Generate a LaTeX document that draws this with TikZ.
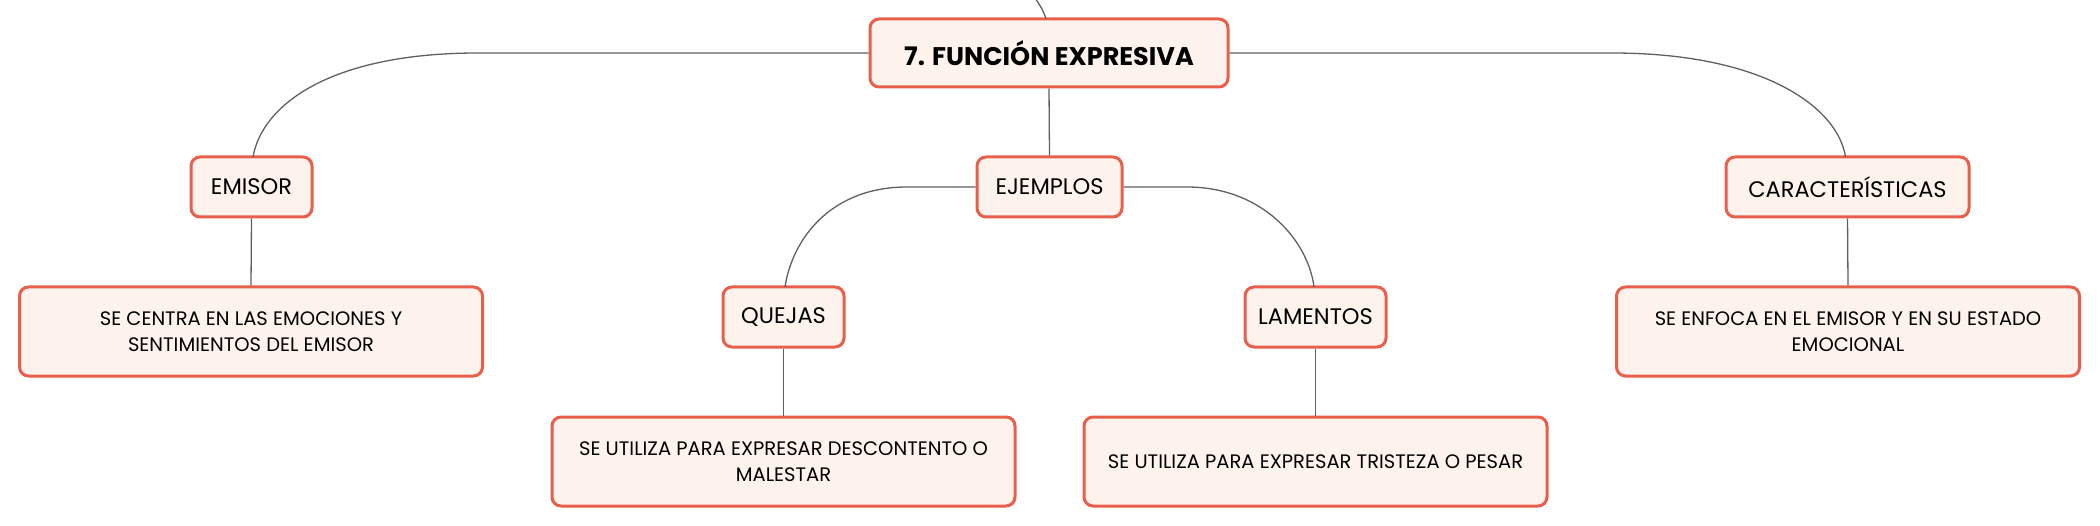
\documentclass[tikz,border=0pt]{standalone}
\usepackage{fontspec}
\setmainfont{Poppins}
\usepackage{tikz}
\usetikzlibrary{calc}
\definecolor{boxred}{HTML}{E8604C}
\definecolor{boxfill}{HTML}{FEF2ED}
\definecolor{linegray}{HTML}{606060}
\tikzset{
	box/.style={draw=boxred, fill=boxfill, line width=3pt, rounded corners=9pt, align=center, inner sep=0pt},
	title/.style={box, minimum height=68pt, font=\fontsize{25.5}{30}\selectfont\bfseries},
	topic/.style={box, minimum height=60pt, font=\fontsize{22.5}{26}\selectfont},
	descr/.style={box, minimum width=463pt, minimum height=89pt, font=\fontsize{19.5}{26}\selectfont},
	conn/.style={draw=linegray, line width=1.3pt}
}

\begin{document}
\begin{tikzpicture}[x=1pt, y=-1pt]
		%%%%% START %%%%%
		\useasboundingbox (0, 0) rectangle (2100, 526);
		
		\node[title, minimum width=358pt] (main) at (1049, 53) {7. FUNCIÓN EXPRESIVA};
		
		\node[topic, minimum width=121pt] (emisor) at (251.5, 187) {EMISOR};
		\node[topic, minimum width=145pt] (ejemplos) at (1049.5, 187) {EJEMPLOS};
		\node[topic, minimum width=243pt] (caract) at (1847.5, 187) {CARACTERÍSTICAS};
		
		\node[descr] (emisordesc) at (251, 331.5) {SE CENTRA EN LAS EMOCIONES Y\\SENTIMIENTOS DEL EMISOR};
		\node[descr] (caractdesc) at (1848, 331.5) {SE ENFOCA EN EL EMISOR Y EN SU ESTADO\\EMOCIONAL};
		
		\node[topic, minimum width=121pt] (quejas) at (783.5, 317) {QUEJAS};
		\node[topic, minimum width=141pt] (lamentos) at (1315.5, 317) {LAMENTOS};
		
		\node[descr] (quejasdesc) at (783.5, 461.5) {SE UTILIZA PARA EXPRESAR DESCONTENTO O\\MALESTAR};
		\node[descr] (lamentosdesc) at (1315.5, 461.5) {SE UTILIZA PARA EXPRESAR TRISTEZA O PESAR};
		
		\coordinate (inleft) at (478, 53);
		\coordinate (inright) at (1612, 53);
		\coordinate (exleft) at (907, 187);
		\coordinate (exright) at (1187, 187);
		
		\draw[conn] (main.north) ++(-3, 1.5) .. controls (1042, 5) and (1030, -10) .. (1010, -30);
		\draw[conn] (main.west) -- (inleft) .. controls (330, 53) and (262, 105) .. ($(emisor.north)+(1.5,1.5)$);
		\draw[conn] (main.east) -- (inright) .. controls (1765, 53) and (1838, 108) .. ($(caract.north)+(-2,1.5)$);
		\draw[conn] (main.south) -- (ejemplos.north);
		\draw[conn] (ejemplos.west) -- (exleft) .. controls (830, 187) and (792, 240) .. ($(quejas.north)+(1.5,1.5)$);
		\draw[conn] (ejemplos.east) -- (exright) .. controls (1262, 187) and (1308, 240) .. ($(lamentos.north)+(-1.5,1.5)$);
		\draw[conn] (emisor.south) -- (emisordesc.north);
		\draw[conn] (caract.south) -- (caractdesc.north);
		\draw[conn] (quejas.south) -- (quejasdesc.north);
		\draw[conn] (lamentos.south) -- (lamentosdesc.north);
		%%%%% END %%%%%
	\end{tikzpicture}
\end{document}
